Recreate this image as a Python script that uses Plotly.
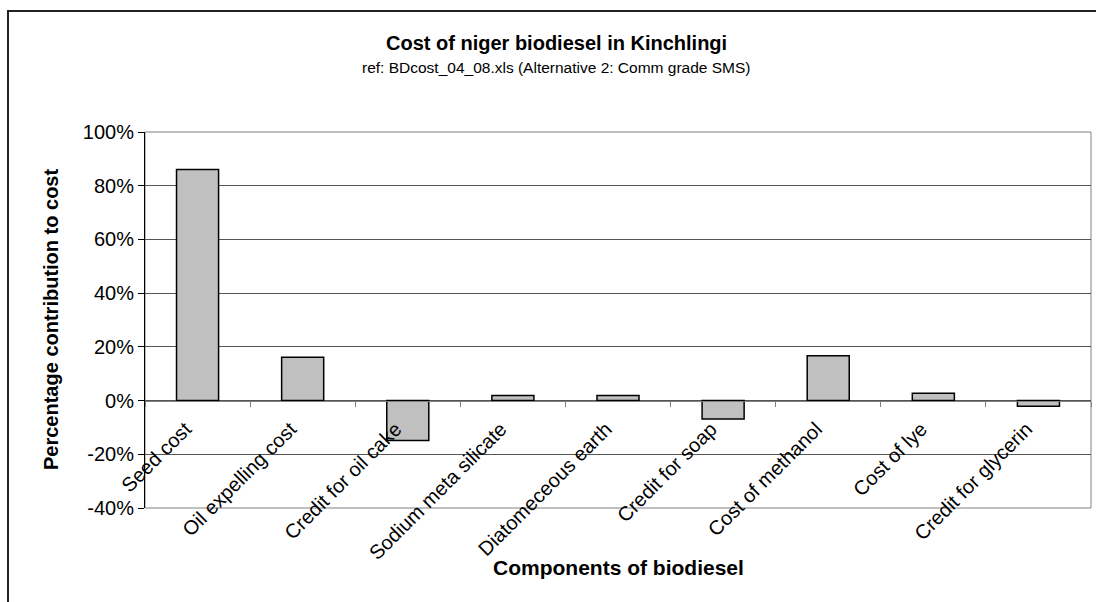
import plotly.graph_objects as go

# Cost components of niger biodiesel (percentage contribution)
components = [
    "Seed cost",
    "Oil expelling cost",
    "Credit for oil cake",
    "Sodium meta silicate",
    "Diatomeceous earth",
    "Credit for soap",
    "Cost of methanol",
    "Cost of lye",
    "Credit for glycerin",
]
contribution_pct = [86.0, 16.1, -14.9, 1.9, 1.9, -6.9, 16.7, 2.7, -2.1]

y_ticks = [-40, -20, 0, 20, 40, 60, 80, 100]
y_tick_text = [f"{v}%" for v in y_ticks]

FONT = "Arial, Liberation Sans, sans-serif"

W, H = 1096, 602
L, R, T, B = 145, 5, 132, 94
pw, ph = W - L - R, H - T - B

def px_x(x):
    return (x - L) / pw

def px_y(y):
    return (H - B - y) / ph

y_min, y_max = -40, 100
zero_pos = (0 - y_min) / (y_max - y_min)

fig = go.Figure()
fig.add_trace(go.Bar(
    x=components,
    y=contribution_pct,
    marker=dict(color="#C0C0C0", line=dict(color="black", width=1.5)),
    hoverinfo="x+y",
))

fig.update_layout(
    width=W, height=H,
    margin=dict(l=L, r=R, t=T, b=B, pad=0),
    paper_bgcolor="white",
    plot_bgcolor="white",
    showlegend=False,
    bargap=0.6,
    font=dict(family=FONT, color="black"),
    xaxis=dict(
        type="category",
        anchor="free",
        position=zero_pos,
        showline=True, linecolor="#808080", linewidth=1,
        ticks="outside", ticklen=5, tickcolor="#808080", tickwidth=1,
        tickson="boundaries",
        showgrid=False,
        tickangle=-45,
        ticklabelstandoff=8,
        ticklabelshift=-12,
        tickfont=dict(size=20, family=FONT, color="black"),
        zeroline=False,
    ),
    yaxis=dict(
        range=[y_min, y_max],
        tickmode="array", tickvals=y_ticks, ticktext=y_tick_text,
        showgrid=True, gridcolor="#555555", gridwidth=1,
        showline=True, linecolor="black", linewidth=1,
        ticks="outside", ticklen=6, tickcolor="black",
        ticklabelstandoff=0,
        tickfont=dict(size=20, family=FONT, color="black"),
        zeroline=False,
    ),
    shapes=[
        # plot area border
        dict(type="rect", xref="paper", yref="paper", x0=0, x1=1, y0=0, y1=1,
             line=dict(color="#808080", width=1), layer="below"),
        # chart frame
        dict(type="rect", xref="paper", yref="paper",
             x0=px_x(8), x1=px_x(1110), y0=px_y(620), y1=px_y(11),
             line=dict(color="#222222", width=2)),
    ],
    annotations=[
        dict(text="<b>Cost of niger biodiesel in Kinchlingi</b>",
             xref="paper", yref="paper", x=px_x(556), y=px_y(43),
             xanchor="center", yanchor="middle", showarrow=False,
             font=dict(size=20, family=FONT)),
        dict(text="ref: BDcost_04_08.xls (Alternative 2: Comm grade SMS)",
             xref="paper", yref="paper", x=px_x(556), y=px_y(68),
             xanchor="center", yanchor="middle", showarrow=False,
             font=dict(size=15.5, family=FONT)),
        dict(text="<b>Components of biodiesel</b>",
             xref="paper", yref="paper", x=0.5, y=px_y(567),
             xanchor="center", yanchor="middle", showarrow=False,
             font=dict(size=21, family=FONT)),
        dict(text="<b>Percentage contribution to cost</b>",
             xref="paper", yref="paper", x=px_x(51), y=0.5,
             xanchor="center", yanchor="middle", showarrow=False, textangle=-90,
             font=dict(size=20, family=FONT)),
    ],
)

fig.write_html("out.html")
